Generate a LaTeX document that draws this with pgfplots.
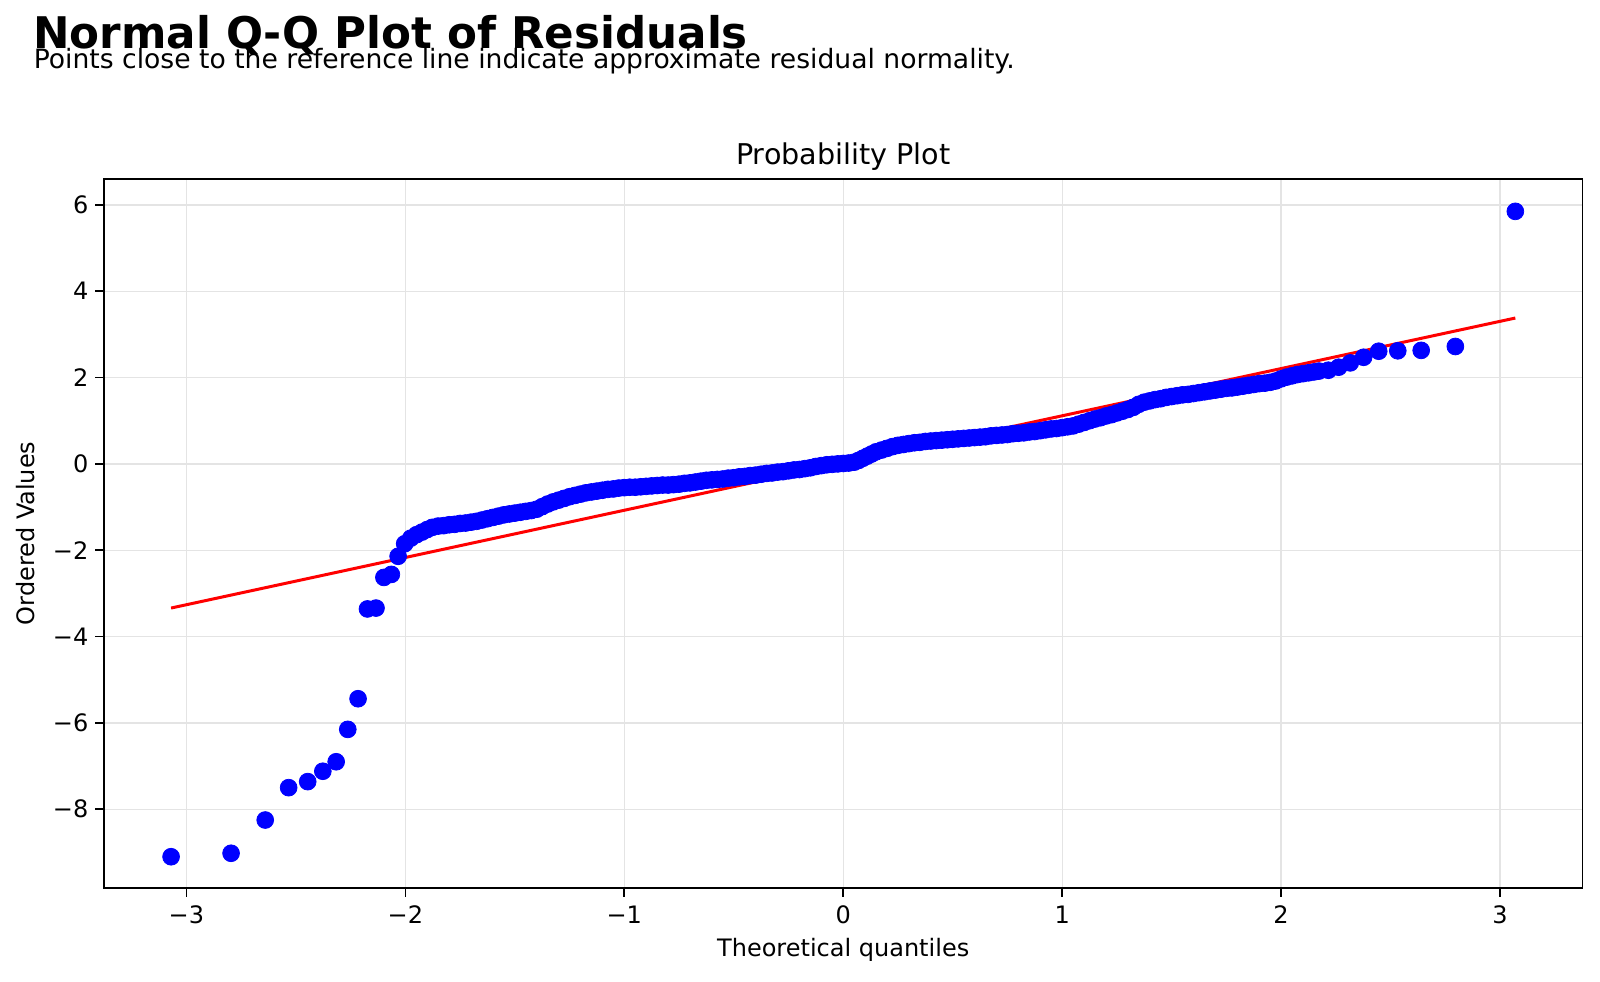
\documentclass[border=0pt]{standalone}
\usepackage{pgfplots}
\pgfplotsset{compat=1.18}
\usepackage{fontspec}
\setmainfont{DejaVu Sans}
\definecolor{gridc}{HTML}{E4E4E4}
\begin{document}
\begin{tikzpicture}
\path[use as bounding box] (0,0) rectangle (800pt,490.5pt);
\begin{axis}[
  at={(52.05pt,46.6pt)}, anchor=south west,
  scale only axis, width=739.1pt, height=354.4pt,
  xmin=-3.376, xmax=3.376, ymin=-9.82, ymax=6.60,
  xtick={-3,-2,-1,0,1,2,3},
  xticklabels={−3,−2,−1,0,1,2,3},
  ytick={-8,-6,-4,-2,0,2,4,6},
  yticklabels={−8,−6,−4,−2,0,2,4,6},
  tick align=outside, major tick length=4.35pt,
  tick style={black, line width=0.8pt},
  xtick pos=bottom, ytick pos=left,
  axis line style={black, line width=0.8pt},
  grid=major, major grid style={gridc, line width=0.65pt},
  ticklabel style={font=\fontsize{12}{14}\selectfont},
  xticklabel style={yshift=-1pt},
  clip=false,
]
\addplot[only marks, mark=*, mark size=4.2pt, blue, mark options={draw=none, fill=blue}] coordinates {
(-3.070,-9.10) (-2.796,-9.02) (-2.640,-8.25) (-2.533,-7.50) (-2.446,-7.36)
(-2.377,-7.12) (-2.316,-6.90) (-2.263,-6.15) (-2.216,-5.44) (-2.173,-3.36)
(-2.134,-3.34) (-2.098,-2.63) (-2.064,-2.56) (-2.033,-2.14) (-2.003,-1.85)
(-1.975,-1.72) (-1.949,-1.64) (-1.924,-1.58) (-1.900,-1.52) (-1.877,-1.47)
(-1.850,-1.44) (-1.825,-1.43) (-1.800,-1.41) (-1.775,-1.40) (-1.750,-1.38)
(-1.725,-1.37) (-1.700,-1.35) (-1.675,-1.33) (-1.650,-1.30) (-1.625,-1.27)
(-1.600,-1.24) (-1.575,-1.21) (-1.550,-1.18) (-1.525,-1.16) (-1.500,-1.14)
(-1.475,-1.12) (-1.450,-1.10) (-1.425,-1.08) (-1.400,-1.05) (-1.375,-0.99)
(-1.350,-0.93) (-1.325,-0.88) (-1.300,-0.84) (-1.275,-0.80) (-1.250,-0.76)
(-1.225,-0.73) (-1.200,-0.70) (-1.175,-0.67) (-1.150,-0.65) (-1.125,-0.63)
(-1.100,-0.61) (-1.075,-0.59) (-1.050,-0.58) (-1.025,-0.56) (-1.000,-0.55)
(-0.975,-0.54) (-0.950,-0.54) (-0.925,-0.53) (-0.900,-0.52) (-0.875,-0.51)
(-0.850,-0.50) (-0.825,-0.49) (-0.800,-0.49) (-0.775,-0.48) (-0.750,-0.47)
(-0.725,-0.45) (-0.700,-0.44) (-0.675,-0.42) (-0.650,-0.40) (-0.625,-0.38)
(-0.600,-0.37) (-0.575,-0.36) (-0.550,-0.35) (-0.525,-0.33) (-0.500,-0.32)
(-0.475,-0.30) (-0.450,-0.29) (-0.425,-0.27) (-0.400,-0.26) (-0.375,-0.24)
(-0.350,-0.22) (-0.325,-0.21) (-0.300,-0.19) (-0.275,-0.18) (-0.250,-0.16)
(-0.225,-0.14) (-0.200,-0.13) (-0.175,-0.11) (-0.150,-0.09) (-0.125,-0.06)
(-0.100,-0.04) (-0.075,-0.02) (-0.050,-0.01) (-0.025,0.00) (0.000,0.01)
(0.025,0.02) (0.050,0.04) (0.070,0.08) (0.090,0.13) (0.110,0.18)
(0.130,0.23) (0.150,0.28) (0.175,0.32) (0.200,0.36) (0.225,0.40)
(0.250,0.43) (0.275,0.45) (0.300,0.47) (0.325,0.49) (0.350,0.50)
(0.375,0.52) (0.400,0.53) (0.425,0.54) (0.450,0.55) (0.475,0.56)
(0.500,0.57) (0.525,0.58) (0.550,0.59) (0.575,0.60) (0.600,0.61)
(0.625,0.62) (0.650,0.63) (0.675,0.65) (0.700,0.66) (0.725,0.67)
(0.750,0.68) (0.775,0.70) (0.800,0.71) (0.825,0.72) (0.850,0.74)
(0.875,0.75) (0.900,0.77) (0.925,0.79) (0.950,0.81) (0.975,0.82)
(1.000,0.84) (1.025,0.86) (1.050,0.88) (1.075,0.92) (1.100,0.96)
(1.125,1.00) (1.150,1.04) (1.175,1.07) (1.200,1.11) (1.225,1.14)
(1.250,1.18) (1.275,1.22) (1.300,1.26) (1.325,1.31) (1.350,1.38)
(1.375,1.43) (1.400,1.46) (1.425,1.49) (1.450,1.51) (1.475,1.54)
(1.500,1.56) (1.525,1.58) (1.550,1.60) (1.575,1.61) (1.600,1.63)
(1.625,1.65) (1.650,1.67) (1.675,1.69) (1.700,1.71) (1.725,1.73)
(1.750,1.75) (1.775,1.76) (1.800,1.78) (1.825,1.80) (1.850,1.82)
(1.875,1.84) (1.900,1.86) (1.925,1.87) (1.950,1.89) (1.975,1.92)
(2.000,1.97) (2.025,2.01) (2.050,2.04) (2.075,2.07) (2.100,2.09)
(2.125,2.11) (2.150,2.13) (2.173,2.15) (2.216,2.17) (2.263,2.24)
(2.316,2.34) (2.377,2.47) (2.446,2.61) (2.533,2.62) (2.640,2.63)
(2.796,2.72) (3.070,5.85)
};
\addplot[red, line width=1.5pt] coordinates {(-3.07,-3.339) (3.07,3.379)};
\end{axis}
\node[anchor=base west, inner sep=0pt, font=\fontsize{21.8}{26}\selectfont\bfseries] at (16.4pt,466.3pt) {Normal Q-Q Plot of Residuals};
\node[anchor=base west, inner sep=0pt, font=\fontsize{13.3}{16}\selectfont] at (16.7pt,456.35pt) {Points close to the reference line indicate approximate residual normality.};
\node[anchor=base, inner sep=0pt, font=\fontsize{14.3}{17}\selectfont] at (421.6pt,408.35pt) {Probability Plot};
\node[anchor=base, inner sep=0pt, font=\fontsize{12}{14}\selectfont] at (421.6pt,12.15pt) {Theoretical quantiles};
\node[anchor=base, inner sep=0pt, rotate=90, font=\fontsize{12}{14}\selectfont] at (17.5pt,223.8pt) {Ordered Values};
\end{tikzpicture}
\end{document}
